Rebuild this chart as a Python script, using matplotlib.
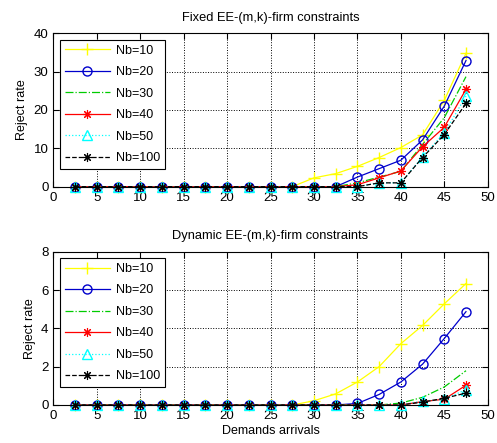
import numpy as np
import matplotlib
matplotlib.use("Agg")
import matplotlib.pyplot as plt

plt.rcParams['font.family'] = ['Liberation Sans', 'DejaVu Sans']

# Demand arrivals (x)
x = [2.5, 5, 7.5, 10, 12.5, 15, 17.5, 20, 22.5, 25, 27.5, 30, 32.5, 35, 37.5, 40, 42.5, 45, 47.5]
labels = ["Nb=10", "Nb=20", "Nb=30", "Nb=40", "Nb=50", "Nb=100"]

z11 = [0] * 11
z13 = [0] * 13
z15 = [0] * 15

# Fixed EE-(m,k)-firm constraints
fixed_nb10 = z11 + [2.3, 3.4, 5.3, 7.6, 10.2, 13.5, 22.5, 34.8]
fixed_nb20 = z13 + [2.5, 4.7, 6.9, 12.2, 21.0, 32.9]
fixed_nb30 = z13 + [1.0, 2.5, 4.0, 11.0, 18.0, 28.7]
fixed_nb40 = z13 + [0.5, 2.3, 4.1, 10.4, 15.5, 25.4]
fixed_nb50 = z13 + [0.0, 1.0, 1.0, 7.8, 14.0, 23.6]
fixed_nb100 = z13 + [0.0, 1.0, 1.0, 7.6, 13.6, 21.7]

# Dynamic EE-(m,k)-firm constraints
dyn_nb10 = z11 + [0.22, 0.58, 1.2, 2.0, 3.2, 4.15, 5.28, 6.34]
dyn_nb20 = z13 + [0.08, 0.55, 1.2, 2.13, 3.47, 4.87]
dyn_nb30 = z15 + [0.1, 0.4, 0.94, 1.79]
dyn_nb40 = z15 + [0.0, 0.18, 0.3, 1.03]
dyn_nb50 = z15 + [0.0, 0.2, 0.3, 0.8]
dyn_nb100 = z15 + [0.0, 0.15, 0.35, 0.62]

asterisk = (8, 2, 0)
styles = [
    dict(color="yellow", linestyle="-", marker="+", markersize=8),
    dict(color="#0000cc", linestyle="-", marker="o", markersize=6.5, markerfacecolor="none"),
    dict(color="#00cc00", linestyle="-.", marker=None),
    dict(color="red", linestyle="-", marker=asterisk, markersize=6.5, markeredgewidth=0.8),
    dict(color="cyan", linestyle=":", marker="^", markersize=6.5, markerfacecolor="none"),
    dict(color="black", linestyle="--", marker=asterisk, markersize=6.5, markeredgewidth=0.8),
]


def panel(ax, series, title, ymax, ystep):
    for y, lab, st in zip(series, labels, styles):
        ax.plot(x, y, label=lab, linewidth=0.9, clip_on=False, **st)
    ax.set_xlim(0, 50)
    ax.set_ylim(0, ymax)
    ax.set_xticks(np.arange(0, 51, 5))
    ax.set_yticks(np.arange(0, ymax + 1, ystep))
    ax.tick_params(direction="in", top=True, right=True, labelsize=9.5, length=4)
    ax.grid(True, linestyle=":", color="black", linewidth=0.7)
    ax.set_title(title, fontsize=9.3, pad=9)
    ax.set_ylabel("Reject rate", fontsize=9)
    leg = ax.legend(loc="upper left", fontsize=9, handlelength=3.6, frameon=True,
                    fancybox=False, edgecolor="black", framealpha=1,
                    borderaxespad=0.5, labelspacing=0.76, handletextpad=0.5)
    leg.get_frame().set_linewidth(0.8)


fig = plt.figure(figsize=(4.97, 4.43), dpi=100)
ax1 = fig.add_axes([0.1073, 0.5786, 0.874, 0.3462])
ax2 = fig.add_axes([0.1073, 0.0858, 0.874, 0.346])

panel(ax1, [fixed_nb10, fixed_nb20, fixed_nb30, fixed_nb40, fixed_nb50, fixed_nb100],
      "Fixed EE-(m,k)-firm constraints", 40, 10)
panel(ax2, [dyn_nb10, dyn_nb20, dyn_nb30, dyn_nb40, dyn_nb50, dyn_nb100],
      "Dynamic EE-(m,k)-firm constraints", 8, 2)
ax2.set_xlabel("Demands arrivals", fontsize=9, labelpad=2)

fig.savefig("out.png", dpi=100)
